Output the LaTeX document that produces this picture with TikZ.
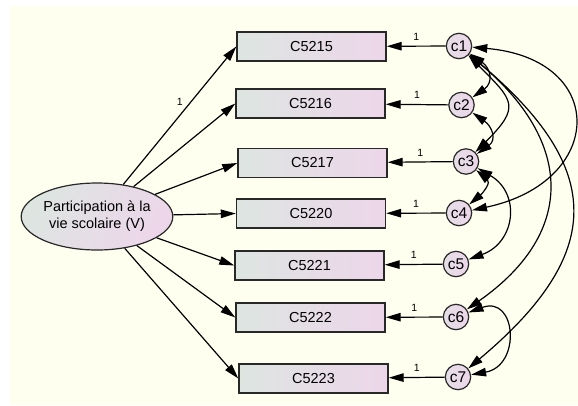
\documentclass[tikz,border=0pt]{standalone}
\usepackage{fontspec}
\setmainfont{Liberation Sans}
\usetikzlibrary{arrows.meta,shapes.geometric}

\definecolor{cream}{RGB}{255,255,240}
\definecolor{boxgrey}{RGB}{221,229,225}
\definecolor{boxpink}{RGB}{237,214,234}
\definecolor{edge}{RGB}{40,40,40}

\begin{document}
\begin{tikzpicture}[x=1pt,y=1pt,
  obs/.style={draw=edge, line width=1.4pt, rectangle, minimum width=149pt,
    minimum height=29pt, left color=boxgrey, right color=boxpink,
    font=\fontsize{14.5}{16}\selectfont},
  err/.style={draw=edge, line width=1.2pt, circle, minimum size=25.4pt,
    inner sep=0pt, left color=boxgrey!50!boxpink, right color=boxpink,
    font=\fontsize{15.5}{16}\selectfont},
  lat/.style={draw=edge, line width=1.2pt, ellipse, minimum width=134pt,
    minimum height=67pt, inner sep=0pt, left color=boxgrey, right color=boxpink,
    shading angle=60, align=center, font=\fontsize{14.5}{17}\selectfont},
  regr/.style={-{Triangle[length=15pt,width=8.5pt]}, line width=1.2pt},
  cov/.style={{Triangle[length=15pt,width=8.5pt]}-{Triangle[length=15pt,width=8.5pt]}, line width=1.2pt},
  wt/.style={font=\fontsize{10.5}{11}\selectfont, inner sep=1pt}]
  \useasboundingbox (0,0) rectangle (578,-405);
  \fill[cream] (10,-6) rectangle (578,-405);

  % Latent variable
  \node[lat] (V) at (97,-216.5) {Participation à la\\vie scolaire (V)};

  % Observed variables
  \node[obs] (b1) at (311.5,-46.5) {C5215};
  \node[obs] (b2) at (310.5,-103.5) {C5216};
  \node[obs] (b3) at (312.5,-163) {C5217};
  \node[obs] (b4) at (311,-213.5) {C5220};
  \node[obs] (b5) at (309.5,-265.5) {C5221};
  \node[obs] (b6) at (310.5,-317.5) {C5222};
  \node[obs] (b7) at (313.5,-378.5) {C5223};

  % Error terms
  \node[err] (c1) at (459,-46) {c1};
  \node[err] (c2) at (461.5,-105) {c2};
  \node[err] (c3) at (466,-161.5) {c3};
  \node[err] (c4) at (459,-213) {c4};
  \node[err] (c5) at (456,-264) {c5};
  \node[err] (c6) at (456,-317) {c6};
  \node[err] (c7) at (458,-377) {c7};

  % Loadings
  \draw[regr] (V) -- (b1.west) node[wt, pos=0.55, above left=1pt] (l0) {1};
  \draw[regr] (V) -- (b2.west);
  \draw[regr] (V) -- (b3.west);
  \draw[regr] (V) -- (b4.west);
  \draw[regr] (V) -- (b5.west);
  \draw[regr] (V) -- (b6.west);
  \draw[regr] (V) -- (b7.west);

  % Errors to items
  \draw[regr] (c1) -- (b1) node[wt, midway, above=4pt] (l1) {1};
  \draw[regr] (c2) -- (b2) node[wt, midway, above=4pt] (l2) {1};
  \draw[regr] (c3) -- (b3) node[wt, midway, above=4pt] (l3) {1};
  \draw[regr] (c4) -- (b4) node[wt, midway, above=4pt] (l4) {1};
  \draw[regr] (c5) -- (b5) node[wt, midway, above=4pt] (l5) {1};
  \draw[regr] (c6) -- (b6) node[wt, midway, above=4pt] (l6) {1};
  \draw[regr] (c7) -- (b7) node[wt, midway, above=4pt] (l7) {1};

  % Covariances
  \draw[cov] (c1) to[out=-35, in=35, looseness=1.5] (c2);
  \draw[cov] (c2) to[out=-35, in=35, looseness=1.5] (c3);
  \draw[cov] (c1) to[out=-45, in=45, looseness=1.7] (c3);
  \draw[cov] (c1) to[out=-5, in=12, looseness=2.15] (c4);
  \draw[cov] (c3) to[out=-40, in=40, looseness=1.4] (c4);
  \draw[cov] (c3) to[out=-30, in=20, looseness=1.4] (c5);
  \draw[cov] (c1) to[out=-40, in=35, looseness=1.35] (c6);
  \draw[cov] (c1) to[out=-40, in=40, looseness=1.45] (c7);
  \draw[cov] (c6) to[out=20, in=10, looseness=2.1] (c7);
\end{tikzpicture}
\end{document}
